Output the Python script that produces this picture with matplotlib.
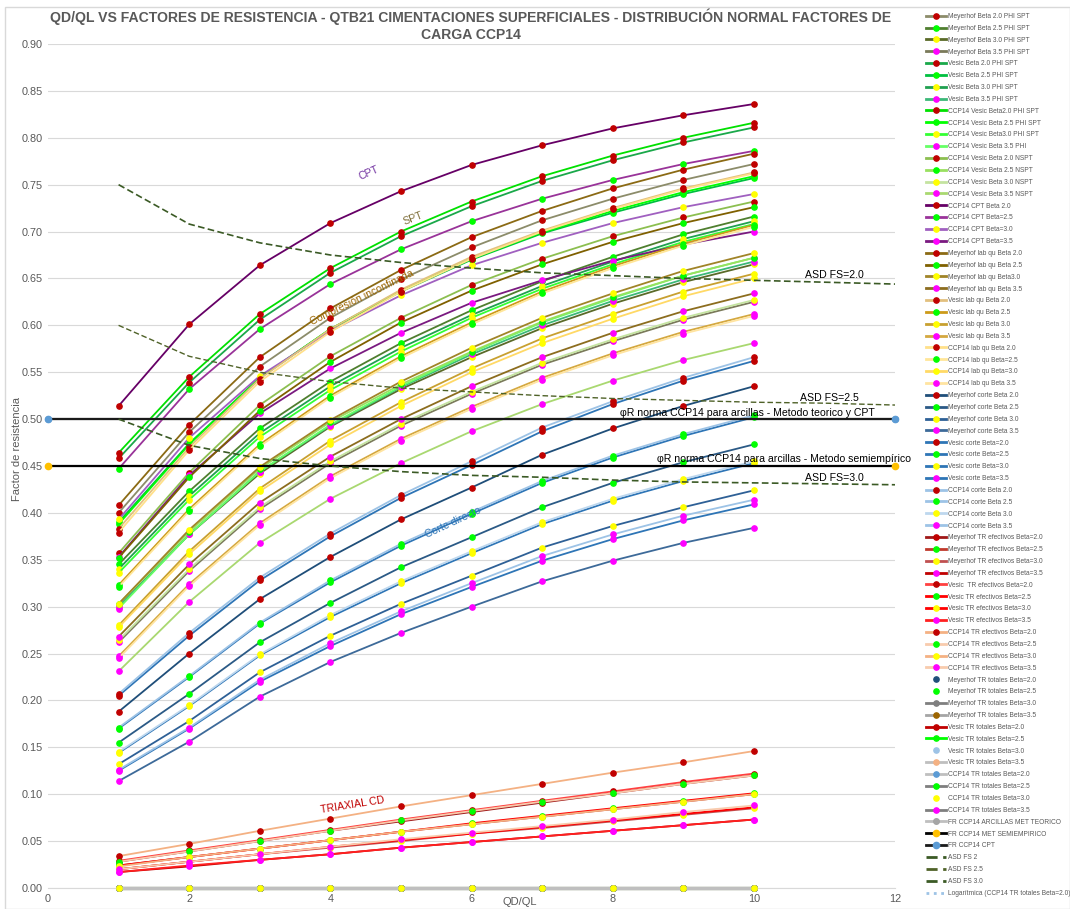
import matplotlib
matplotlib.use('Agg')
import matplotlib.pyplot as plt
from matplotlib.patches import Rectangle
from matplotlib.ticker import FormatStrFormatter, MultipleLocator

plt.rcParams['font.family'] = ['Liberation Sans', 'DejaVu Sans']

# ---------------------------------------------------------------- data
qd_ql = [1, 2, 3, 4, 5, 6, 7, 8, 9, 10]
beta_tags = ['2.0', '2.5', '3.0', '3.5']

meyerhof_spt = [
    [0.400, 0.486, 0.556, 0.608, 0.649, 0.683, 0.712, 0.735, 0.755, 0.772],
    [0.345, 0.423, 0.490, 0.540, 0.581, 0.616, 0.647, 0.673, 0.697, 0.716],
    [0.300, 0.377, 0.442, 0.492, 0.532, 0.566, 0.597, 0.623, 0.646, 0.665],
    [0.262, 0.338, 0.404, 0.453, 0.493, 0.527, 0.558, 0.583, 0.606, 0.625],
]
vesic_spt = [
    [0.458, 0.539, 0.606, 0.656, 0.695, 0.727, 0.754, 0.776, 0.795, 0.811],
    [0.390, 0.474, 0.544, 0.596, 0.636, 0.670, 0.698, 0.720, 0.740, 0.757],
    [0.340, 0.418, 0.485, 0.535, 0.576, 0.611, 0.642, 0.668, 0.692, 0.711],
    [0.300, 0.377, 0.444, 0.493, 0.534, 0.569, 0.600, 0.626, 0.649, 0.668],
]
ccp14_vesic_spt = [
    [0.464, 0.545, 0.612, 0.661, 0.700, 0.732, 0.759, 0.781, 0.800, 0.816],
    [0.388, 0.473, 0.544, 0.596, 0.637, 0.671, 0.699, 0.722, 0.742, 0.759],
    [0.336, 0.414, 0.481, 0.531, 0.572, 0.608, 0.639, 0.665, 0.689, 0.708],
    [0.298, 0.377, 0.444, 0.494, 0.535, 0.571, 0.603, 0.629, 0.653, 0.672],
]
ccp14_nspt = [
    [0.357, 0.443, 0.515, 0.567, 0.608, 0.643, 0.671, 0.695, 0.715, 0.732],
    [0.303, 0.380, 0.447, 0.497, 0.537, 0.572, 0.604, 0.630, 0.653, 0.672],
    [0.264, 0.340, 0.406, 0.455, 0.495, 0.529, 0.560, 0.585, 0.608, 0.627],
    [0.231, 0.305, 0.368, 0.415, 0.453, 0.487, 0.516, 0.541, 0.563, 0.581],
]
ccp14_cpt = [
    [0.514, 0.601, 0.664, 0.709, 0.743, 0.771, 0.792, 0.810, 0.824, 0.836],
    [0.447, 0.532, 0.596, 0.644, 0.681, 0.711, 0.735, 0.755, 0.772, 0.786],
    [0.393, 0.480, 0.546, 0.594, 0.632, 0.664, 0.688, 0.709, 0.726, 0.740],
    [0.353, 0.440, 0.506, 0.554, 0.592, 0.624, 0.648, 0.669, 0.686, 0.700],
]
meyerhof_qu = [
    [0.408, 0.494, 0.566, 0.618, 0.659, 0.694, 0.722, 0.746, 0.766, 0.783],
    [0.352, 0.438, 0.509, 0.561, 0.603, 0.637, 0.665, 0.689, 0.709, 0.726],
    [0.303, 0.382, 0.449, 0.499, 0.540, 0.576, 0.608, 0.634, 0.658, 0.677],
    [0.268, 0.345, 0.411, 0.460, 0.500, 0.535, 0.566, 0.592, 0.615, 0.634],
]
vesic_qu = [
    [0.383, 0.470, 0.543, 0.596, 0.638, 0.673, 0.701, 0.725, 0.746, 0.763],
    [0.323, 0.404, 0.473, 0.525, 0.567, 0.603, 0.636, 0.663, 0.687, 0.707],
    [0.280, 0.359, 0.426, 0.477, 0.518, 0.554, 0.586, 0.612, 0.636, 0.655],
    [0.247, 0.324, 0.389, 0.439, 0.479, 0.513, 0.544, 0.570, 0.593, 0.612],
]
ccp14_qu = [
    [0.379, 0.467, 0.540, 0.593, 0.636, 0.671, 0.700, 0.724, 0.745, 0.762],
    [0.321, 0.402, 0.471, 0.523, 0.565, 0.601, 0.634, 0.661, 0.685, 0.705],
    [0.278, 0.356, 0.423, 0.473, 0.514, 0.550, 0.581, 0.607, 0.631, 0.650],
    [0.245, 0.322, 0.387, 0.437, 0.477, 0.511, 0.542, 0.568, 0.591, 0.610],
]
meyerhof_corte = [
    [0.188, 0.250, 0.308, 0.353, 0.393, 0.427, 0.462, 0.490, 0.514, 0.535],
    [0.155, 0.207, 0.262, 0.304, 0.342, 0.374, 0.406, 0.432, 0.454, 0.473],
    [0.132, 0.178, 0.230, 0.269, 0.303, 0.333, 0.363, 0.386, 0.406, 0.424],
    [0.114, 0.156, 0.204, 0.241, 0.272, 0.300, 0.327, 0.349, 0.368, 0.384],
]
vesic_corte = [
    [0.205, 0.269, 0.328, 0.375, 0.416, 0.451, 0.487, 0.516, 0.541, 0.562],
    [0.170, 0.225, 0.282, 0.326, 0.365, 0.399, 0.432, 0.459, 0.482, 0.502],
    [0.144, 0.194, 0.248, 0.289, 0.325, 0.357, 0.388, 0.413, 0.434, 0.453],
    [0.125, 0.170, 0.220, 0.258, 0.292, 0.321, 0.349, 0.372, 0.392, 0.409],
]
ccp14_corte = [
    [0.207, 0.272, 0.331, 0.378, 0.419, 0.455, 0.491, 0.519, 0.544, 0.566],
    [0.171, 0.226, 0.283, 0.328, 0.367, 0.401, 0.434, 0.461, 0.484, 0.504],
    [0.145, 0.195, 0.249, 0.291, 0.327, 0.359, 0.390, 0.415, 0.436, 0.455],
    [0.126, 0.171, 0.222, 0.261, 0.295, 0.325, 0.354, 0.377, 0.397, 0.414],
]
meyerhof_tr_ef = [
    [0.028, 0.039, 0.050, 0.061, 0.071, 0.081, 0.091, 0.101, 0.111, 0.120],
    [0.024, 0.033, 0.042, 0.051, 0.060, 0.068, 0.076, 0.084, 0.092, 0.100],
    [0.020, 0.028, 0.036, 0.043, 0.050, 0.058, 0.064, 0.071, 0.078, 0.085],
    [0.017, 0.023, 0.030, 0.036, 0.043, 0.049, 0.055, 0.061, 0.067, 0.073],
]
vesic_tr_ef = [
    [0.029, 0.040, 0.051, 0.062, 0.073, 0.083, 0.093, 0.103, 0.113, 0.122],
    [0.024, 0.033, 0.042, 0.051, 0.060, 0.069, 0.077, 0.085, 0.093, 0.101],
    [0.020, 0.028, 0.036, 0.044, 0.051, 0.058, 0.065, 0.072, 0.079, 0.086],
    [0.017, 0.024, 0.030, 0.036, 0.043, 0.049, 0.055, 0.061, 0.067, 0.073],
]
ccp14_tr_ef = [
    [0.034, 0.047, 0.061, 0.074, 0.087, 0.099, 0.111, 0.123, 0.134, 0.146],
    [0.028, 0.039, 0.050, 0.061, 0.072, 0.082, 0.092, 0.101, 0.111, 0.120],
    [0.023, 0.033, 0.042, 0.051, 0.060, 0.068, 0.076, 0.084, 0.092, 0.100],
    [0.020, 0.028, 0.036, 0.044, 0.052, 0.059, 0.066, 0.073, 0.081, 0.088],
]
tr_totales = [0.0, 0.0, 0.0, 0.0, 0.0, 0.0, 0.0, 0.0, 0.0, 0.0]

fr_x = [0, 12]
fr_arcillas_teorico = [0.50, 0.50]
fr_semiempirico = [0.45, 0.45]
fr_cpt = [0.50, 0.50]

asd_x = [1, 2, 3, 4, 5, 6, 7, 8, 9, 10, 11, 12]
asd_fs20 = [0.750, 0.708, 0.688, 0.675, 0.667, 0.661, 0.656, 0.653, 0.650, 0.648, 0.646, 0.644]
asd_fs25 = [0.600, 0.567, 0.550, 0.540, 0.533, 0.529, 0.525, 0.522, 0.520, 0.518, 0.517, 0.515]
asd_fs30 = [0.500, 0.472, 0.458, 0.450, 0.444, 0.440, 0.438, 0.435, 0.433, 0.432, 0.431, 0.430]

# ---------------------------------------------------------------- styling
beta_marker = ['#c00000', '#00ff00', '#ffff00', '#ff00ff']

families = [
    (meyerhof_spt, 'Meyerhof Beta {} PHI SPT',
     ['#8c8c6a', '#4f7f2f', '#5a6a28', '#7a7a5a']),
    (vesic_spt, 'Vesic Beta {} PHI SPT',
     ['#1aa84a', '#00c040', '#20a050', '#3cb878']),
    (ccp14_vesic_spt, ['CCP14 Vesic Beta2.0 PHI SPT', 'CCP14 Vesic Beta 2.5 PHI SPT',
                       'CCP14 Vesic Beta3.0 PHI SPT', 'CCP14 Vesic Beta 3.5 PHI'],
     ['#00e000', '#00ff00', '#33ff33', '#66ff66']),
    (ccp14_nspt, 'CCP14 Vesic Beta {} NSPT',
     ['#8cbf50', '#99e060', '#c4e3a0', '#a9d870']),
    (ccp14_cpt, ['CCP14 CPT Beta 2.0', 'CCP14 CPT Beta=2.5', 'CCP14 CPT Beta=3.0', 'CCP14 CPT Beta=3.5'],
     ['#660066', '#993399', '#a060c0', '#7a1a80']),
    (meyerhof_qu, ['Meyerhof lab qu Beta 2.0', 'Meyerhof lab qu Beta 2.5',
                   'Meyerhof lab qu Beta3.0', 'Meyerhof lab qu Beta 3.5'],
     ['#8b6a14', '#7f6000', '#a08428', '#8c6d1f']),
    (vesic_qu, 'Vesic lab qu Beta {}',
     ['#e2c07e', '#cc9a1a', '#c8a030', '#d4a840']),
    (ccp14_qu, ['CCP14 lab qu Beta 2.0', 'CCP14 lab qu Beta=2.5', 'CCP14 lab qu Beta=3.0', 'CCP14 lab qu Beta 3.5'],
     ['#ffe08a', '#ffe699', '#ffd966', '#ffe4a0']),
    (meyerhof_corte, 'Meyerhof corte Beta {}',
     ['#1f4e79', '#2b5a86', '#2e6096', '#3d6a99']),
    (vesic_corte, 'Vesic corte Beta={}',
     ['#2e75b6', '#2e75b6', '#2e75b6', '#2e75b6']),
    (ccp14_corte, 'CCP14 corte Beta {}',
     ['#9dc3e6', '#9dc3e6', '#bdd7ee', '#9dc3e6']),
    (meyerhof_tr_ef, 'Meyerhof TR efectivos Beta={}',
     ['#a01818', '#c0392b', '#c05050', '#c00000']),
    (vesic_tr_ef, ['Vesic  TR efectivos Beta=2.0', 'Vesic TR efectivos Beta=2.5',
                   'Vesic TR efectivos Beta=3.0', 'Vesic TR efectivos Beta=3.5'],
     ['#ff4040', '#ff0000', '#ff0000', '#ff2020']),
    (ccp14_tr_ef, 'CCP14 TR efectivos Beta={}',
     ['#f4b183', '#f8cbad', '#f4b183', '#f8cbad']),
]

# (label, line colour or None for markers only, marker colour, zorder)
totales_styles = [
    ('Meyerhof TR totales Beta=2.0', None, '#1f4e79', 2.0),
    ('Meyerhof TR totales Beta=2.5', None, '#00ff00', 2.0),
    ('Meyerhof TR totales Beta=3.0', '#7f7f7f', '#7f7f7f', 2.0),
    ('Meyerhof TR totales Beta=3.5', '#a5a5a5', '#9c6500', 2.0),
    ('Vesic TR totales Beta=2.0', '#c00000', '#c00000', 2.0),
    ('Vesic TR totales Beta=2.5', '#00ff00', '#00ff00', 2.0),
    ('Vesic TR totales Beta=3.0', None, '#9dc3e6', 2.0),
    ('Vesic TR totales Beta=3.5', '#bfbfbf', '#f4b183', 2.0),
    ('CCP14 TR totales Beta=2.0', '#bfbfbf', '#5b9bd5', 2.6),
    ('CCP14 TR totales Beta=2.5', '#7f7f7f', '#00ff00', 2.0),
    ('CCP14 TR totales Beta=3.0', None, '#ffff00', 2.8),
    ('CCP14 TR totales Beta=3.5', '#7f7f7f', '#ff00ff', 2.0),
]

# ---------------------------------------------------------------- figure
fig = plt.figure(figsize=(10.70, 9.09), dpi=100)
ax = fig.add_axes([48 / 1070, 1 - 888 / 909, 847 / 1070, 844 / 909])

LW = 1.3
MS = 3.8

for values, labels, colors in families:
    if isinstance(labels, str):
        labels = [labels.format(b) for b in beta_tags]
    for vals, lab, lc, mc in zip(values, labels, colors, beta_marker):
        ax.plot(qd_ql, vals, color=lc, lw=LW, marker='o', ms=MS,
                mfc=mc, mec=mc, label=lab, clip_on=False)

for lab, lc, mc, z in totales_styles:
    if lc is None:
        ax.plot(qd_ql, tr_totales, ls='none', marker='o', ms=MS,
                mfc=mc, mec=mc, label=lab, clip_on=False, zorder=z)
    else:
        ax.plot(qd_ql, tr_totales, color=lc, lw=2.2, marker='o', ms=MS,
                mfc=mc, mec=mc, label=lab, clip_on=False, zorder=z)

ax.plot(fr_x, fr_arcillas_teorico, color='#bfbfbf', lw=1.6, marker='o', ms=4,
        mfc='#a5a5a5', mec='#a5a5a5', label='FR CCP14 ARCILLAS MET TEORICO', clip_on=False)
ax.plot(fr_x, fr_semiempirico, color='#000000', lw=1.6, marker='o', ms=4.5,
        mfc='#ffc000', mec='#ffc000', label='FR CCP14 MET SEMIEMPIRICO', clip_on=False)
ax.plot(fr_x, fr_cpt, color='#1a1a1a', lw=1.6, marker='o', ms=4.5,
        mfc='#5b9bd5', mec='#5b9bd5', label='FR CCP14 CPT', clip_on=False)

asd_color = '#3b5a25'
ax.plot(asd_x, asd_fs20, color=asd_color, lw=1.2, ls=(0, (4, 2)), label='ASD FS 2')
ax.plot(asd_x, asd_fs25, color='#4f6228', lw=1.0, ls=(0, (4, 2)), label='ASD FS 2.5')
ax.plot(asd_x, asd_fs30, color=asd_color, lw=1.2, ls=(0, (4, 2)), label='ASD FS 3.0')
ax.plot([], [], color='#9dc3e6', lw=1.0, ls=':', label='Logarítmica (CCP14 TR totales Beta=2.0)')

# ---------------------------------------------------------------- axes
ax.set_xlim(0, 12)
ax.set_ylim(0, 0.9)
ax.xaxis.set_major_locator(MultipleLocator(2))
ax.yaxis.set_major_locator(MultipleLocator(0.05))
ax.yaxis.set_major_formatter(FormatStrFormatter('%.2f'))
ax.grid(axis='y', color='#d9d9d9', lw=0.8)
ax.set_axisbelow(True)
ax.tick_params(length=0, labelsize=7.8, colors='#595959', pad=4)
for side in ('left', 'right', 'top'):
    ax.spines[side].set_visible(False)
ax.spines['bottom'].set_color('#d9d9d9')

ax.set_xlabel('QD/QL', fontsize=8, color='#595959')
ax.xaxis.set_label_coords(0.557, -0.011)
ax.set_ylabel('Factor de resistencia', fontsize=8, color='#595959')
ax.yaxis.set_label_coords(-0.031, 0.52)

fig.text(471 / 1070, 1 - 25 / 909,
         'QD/QL VS FACTORES DE RESISTENCIA - QTB21 CIMENTACIONES SUPERFICIALES - DISTRIBUCIÓN NORMAL FACTORES DE\nCARGA CCP14',
         ha='center', va='center', fontsize=10.1, fontweight='bold', color='#595959',
         linespacing=1.3)

# curve annotations
ANN = 7.6
ax.text(4.55, 0.762, 'CPT', rotation=24, color='#7030a0', fontsize=ANN, ha='center', va='center')
ax.text(5.17, 0.714, 'SPT', rotation=21, color='#7f6f3a', fontsize=ANN, ha='center', va='center')
ax.text(4.45, 0.630, 'Compresión inconfinada', rotation=26, color='#9c6500', fontsize=ANN,
        ha='center', va='center')
ax.text(5.74, 0.390, 'Corte directo', rotation=25, color='#2e75b6', fontsize=ANN,
        ha='center', va='center')
ax.text(4.31, 0.0885, 'TRIAXIAL CD', rotation=9, color='#c00000', fontsize=ANN,
        ha='center', va='center')

ax.text(10.73, 0.654, 'ASD FS=2.0', fontsize=ANN, va='center')
ax.text(10.65, 0.5225, 'ASD FS=2.5', fontsize=ANN, va='center')
ax.text(10.73, 0.437, 'ASD FS=3.0', fontsize=ANN, va='center')
ax.text(8.10, 0.507, 'φR norma CCP14 para arcillas - Metodo teorico y CPT', fontsize=ANN,
        va='center')
ax.text(8.63, 0.457, 'φR norma CCP14 para arcillas - Metodo semiempírico', fontsize=ANN,
        va='center')

# legend
LFS = 4.75
handles, labels = ax.get_legend_handles_labels()
leg = fig.legend(handles, labels, loc='upper left', bbox_to_anchor=(926 / 1070, 1 - 13 / 909),
                 frameon=False, fontsize=LFS, labelspacing=0.735, handlelength=3.0,
                 handletextpad=0.3, borderpad=0, borderaxespad=0, numpoints=1,
                 markerscale=1.0)
for t in leg.get_texts():
    t.set_color('#595959')
for h in leg.legend_handles:
    if h.get_linestyle() not in ('None', 'none', ''):
        h.set_linewidth(2.0)

# chart area border
fig.patches.append(Rectangle((5 / 1070, 0), 1 - 5 / 1070, 1 - 7 / 909,
                             transform=fig.transFigure, fill=False,
                             edgecolor='#d9d9d9', lw=1.0))

fig.savefig('out.png', dpi=100)
